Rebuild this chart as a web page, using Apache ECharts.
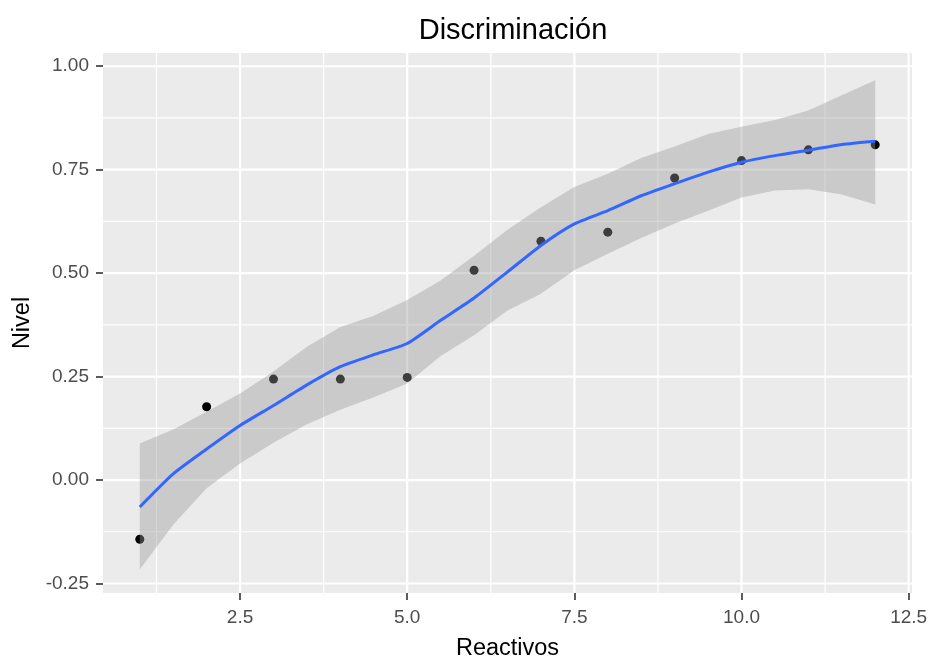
<!DOCTYPE html>
<html>
<head>
<meta charset="utf-8">
<script src="https://cdn.jsdelivr.net/npm/echarts@6/dist/echarts.min.js"></script>
<style>html,body{margin:0;padding:0;background:#fff}#c{width:932px;height:661px}</style>
</head>
<body>
<div id="c"></div>
<script>
// Observed points
const reactivos = [1,2,3,4,5,6,7,8,9,10,11,12];
const nivel = [-0.143,0.177,0.244,0.244,0.248,0.507,0.577,0.599,0.730,0.772,0.798,0.810];
// Smooth fit (loess) and confidence band
const fitX = [1,1.5,2,2.5,3,3.5,4,4.5,5,5.5,6,6.5,7,7.5,8,8.5,9,9.5,10,10.5,11,11.5,12];
const fitY = [-0.065,0.015,0.075,0.132,0.180,0.230,0.274,0.303,0.330,0.386,0.440,0.503,0.567,0.619,0.651,0.687,0.716,0.744,0.768,0.784,0.797,0.811,0.819];
const upperY = [0.088,0.122,0.165,0.209,0.262,0.322,0.370,0.397,0.435,0.482,0.542,0.605,0.659,0.708,0.740,0.778,0.806,0.836,0.854,0.870,0.893,0.930,0.966];
const lowerY = [-0.216,-0.108,-0.020,0.040,0.090,0.135,0.170,0.200,0.233,0.300,0.350,0.410,0.450,0.507,0.547,0.585,0.620,0.651,0.683,0.700,0.703,0.690,0.666];
// Tick values
const xTicks = [2.5,5.0,7.5,10.0,12.5];
const yTicks = [-0.25,0.00,0.25,0.50,0.75,1.00];
const xMinor = [1.25,3.75,6.25,8.75,11.25];
const yMinor = [-0.125,0.125,0.375,0.625,0.875];

const X_MIN = 0.45, X_MAX = 12.55, Y_MIN = -0.273, Y_MAX = 1.032;

const gridLines = [];
xMinor.forEach(v => gridLines.push(['x', v, 'minor']));
yMinor.forEach(v => gridLines.push(['y', v, 'minor']));
xTicks.forEach(v => gridLines.push(['x', v, 'major']));
yTicks.forEach(v => gridLines.push(['y', v, 'major']));

const chart = echarts.init(document.getElementById('c'), null, {renderer: 'canvas'});
const font = 'Liberation Sans, Arial, sans-serif';

chart.setOption({
  animation: false,
  backgroundColor: '#ffffff',
  title: {
    text: 'Discriminación',
    left: 508,
    top: 11,
    textAlign: 'center',
    textStyle: {fontFamily: font, fontSize: 29, fontWeight: 'normal', color: '#000'}
  },
  grid: {
    left: 103, right: 20, top: 53, bottom: 68,
    containLabel: false, outerBoundsMode: 'none',
    show: true, backgroundColor: '#EBEBEB', borderWidth: 0
  },
  xAxis: {
    type: 'value', min: X_MIN, max: X_MAX,
    name: 'Reactivos', nameLocation: 'middle', nameGap: 44,
    nameTextStyle: {fontFamily: font, fontSize: 23.5, color: '#000'},
    axisLine: {show: false, onZero: false},
    axisTick: {show: true, length: 7, customValues: xTicks, lineStyle: {color: '#333333', width: 1.6}},
    axisLabel: {customValues: xTicks, margin: 15, fontFamily: font, fontSize: 19, color: '#4D4D4D',
      formatter: v => v.toFixed(1)},
    splitLine: {show: false}
  },
  yAxis: {
    type: 'value', min: Y_MIN, max: Y_MAX,
    name: 'Nivel', nameLocation: 'middle', nameGap: 66, nameRotate: 90,
    nameTextStyle: {fontFamily: font, fontSize: 23.5, color: '#000'},
    axisLine: {show: false, onZero: false},
    axisTick: {show: true, length: 7, customValues: yTicks, lineStyle: {color: '#333333', width: 1.6}},
    axisLabel: {customValues: yTicks, margin: 14, fontFamily: font, fontSize: 19, color: '#4D4D4D',
      formatter: v => v.toFixed(2)},
    splitLine: {show: false}
  },
  series: [
    {
      type: 'custom', z: 1, silent: true, clip: true,
      data: gridLines.map((g, i) => [i]),
      renderItem: function (params, api) {
        const g = gridLines[params.dataIndex];
        const cs = params.coordSys;
        let shape;
        if (g[0] === 'x') {
          const px = api.coord([g[1], 0])[0];
          shape = {x1: px, y1: cs.y, x2: px, y2: cs.y + cs.height};
        } else {
          const py = api.coord([0, g[1]])[1];
          shape = {x1: cs.x, y1: py, x2: cs.x + cs.width, y2: py};
        }
        return {type: 'line', shape: shape,
          style: {stroke: '#FFFFFF', lineWidth: g[2] === 'major' ? 2.2 : 1.2}};
      }
    },
    {
      type: 'scatter', z: 2, symbolSize: 9,
      data: reactivos.map((x, i) => [x, nivel[i]]),
      itemStyle: {color: '#000000', opacity: 1}
    },
    {
      type: 'custom', z: 3, silent: true,
      data: [[0]],
      renderItem: function (params, api) {
        const pts = [];
        for (let i = 0; i < fitX.length; i++) pts.push(api.coord([fitX[i], upperY[i]]));
        for (let i = fitX.length - 1; i >= 0; i--) pts.push(api.coord([fitX[i], lowerY[i]]));
        return {type: 'polygon', shape: {points: pts},
          style: {fill: 'rgba(153,153,153,0.4)', stroke: null}};
      }
    },
    {
      type: 'line', z: 4, symbol: 'none', smooth: 0.2,
      data: fitX.map((x, i) => [x, fitY[i]]),
      lineStyle: {color: '#3366FF', width: 3}
    }
  ]
});
</script>
</body>
</html>
